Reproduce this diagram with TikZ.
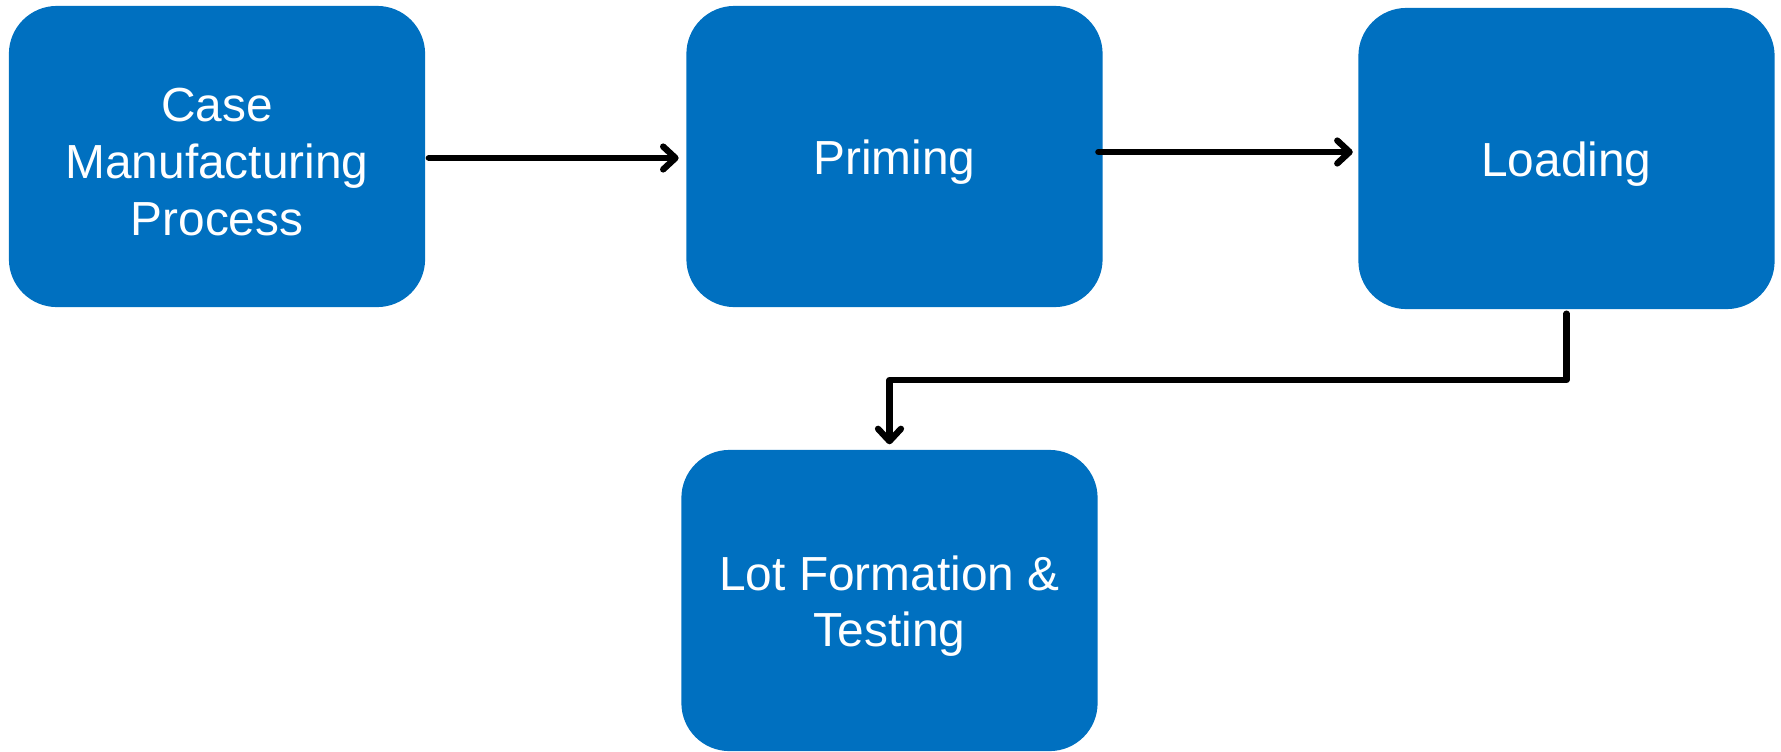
\documentclass[tikz,border=0pt]{standalone}
\usepackage{fontspec}
\setmainfont{Liberation Sans}
\usetikzlibrary{arrows.meta}
\definecolor{stepblue}{HTML}{0070C0}
\begin{document}
\begin{tikzpicture}[
  x=0.01cm, y=-0.01cm,
  stage/.style={draw=none, fill=stepblue, rounded corners=0.48cm,
    minimum width=4.16cm, minimum height=3.01cm},
  caption/.style={text=white, align=center, yshift=-1.6pt,
    font=\fontsize{13.6}{16.2}\selectfont},
  flow/.style={draw, line width=1.8pt, line cap=round, line join=round,
    -{Straight Barb[length=3.5pt, width=6.5pt, line width=1.8pt, round]}}
]
\useasboundingbox (0,0) rectangle (1781,751);
\node[stage, label={[caption]center:{Case\\Manufacturing\\Process}}] (case) at (217,156.5) {};
\node[stage, label={[caption]center:Priming}] (priming) at (894.5,156.5) {};
\node[stage, label={[caption]center:Loading}] (loading) at (1566.5,158.5) {};
\node[stage, label={[caption]center:{Lot Formation \&\\Testing}}] (lot) at (889.5,600.5) {};
\draw[flow, shorten <=0.85pt, shorten >=2pt] (case.east |- 0,158) -- (priming.west |- 0,158);
\draw[flow, shorten <=-1.4pt, shorten >=1.4pt] (priming.east |- 0,152) -- (loading.west |- 0,152);
\draw[flow, shorten <=1.1pt, shorten >=1.4pt] (loading.south) -- (loading.south |- 0,380) -| (lot.north);
\end{tikzpicture}
\end{document}
